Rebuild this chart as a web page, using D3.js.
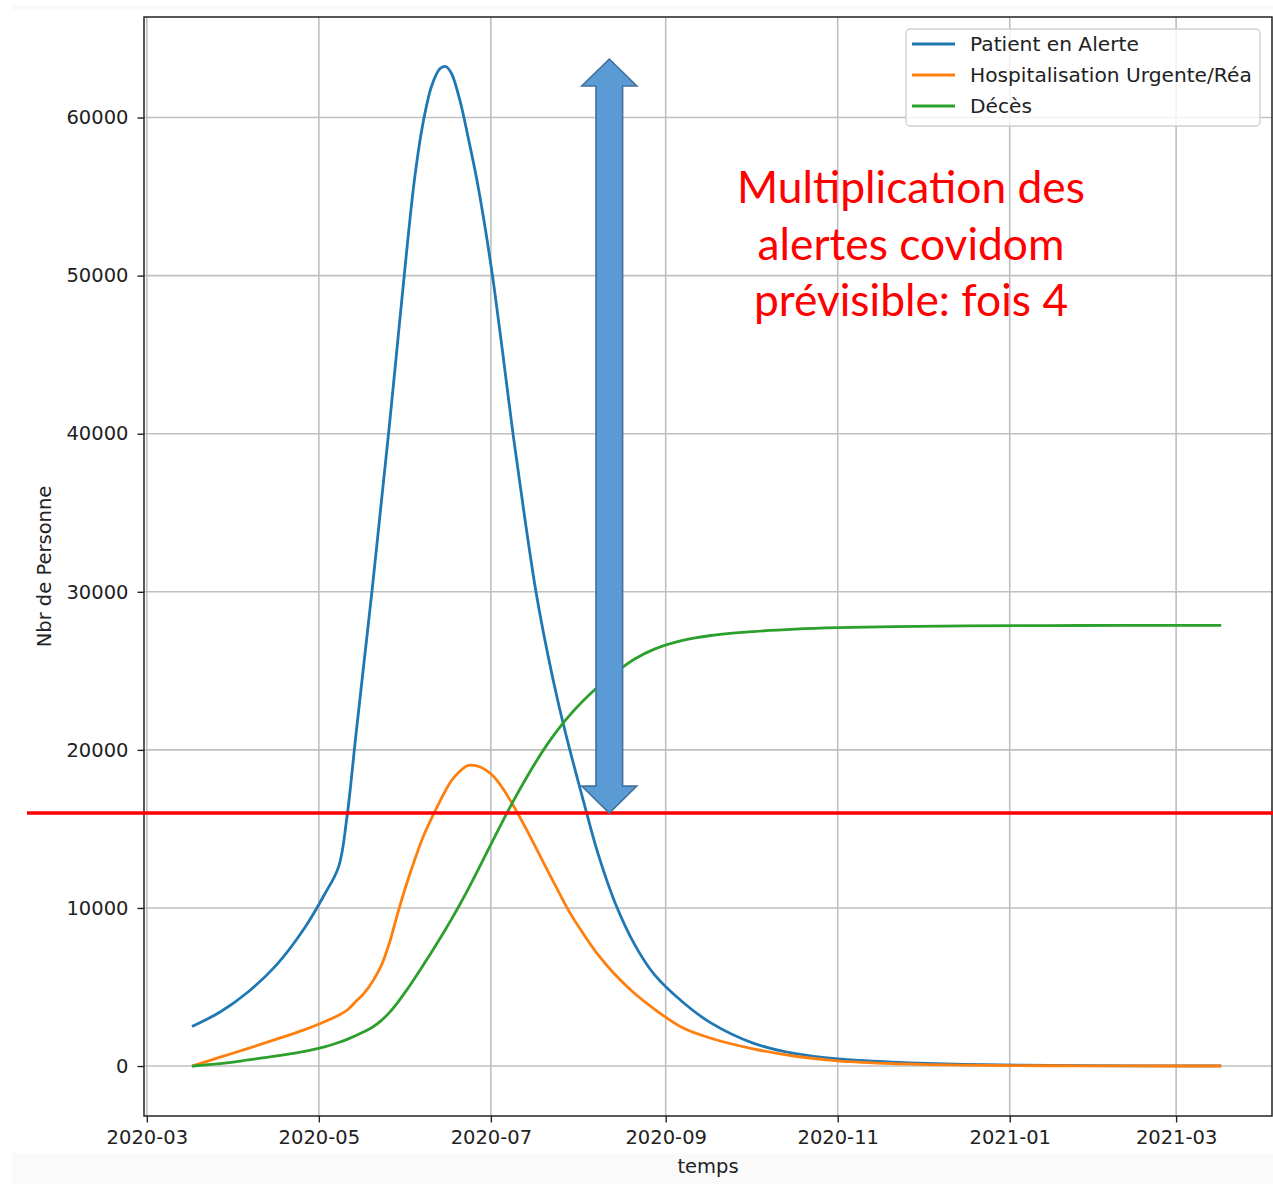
<!DOCTYPE html>
<html>
<head>
<meta charset="utf-8">
<script src="https://cdn.jsdelivr.net/npm/d3@7"></script>
<style>
body{margin:0;background:#fff}
svg{display:block}
text{font-family:"DejaVu Sans",sans-serif}
</style>
</head>
<body>
<div id="chart"></div>
<script>
// dates shared by the three series
var dates=["2020-03-17","2020-03-27","2020-04-06","2020-04-16","2020-04-26","2020-05-03","2020-05-08","2020-05-11","2020-05-14","2020-05-17",
"2020-05-20","2020-05-23","2020-05-26","2020-05-29","2020-06-01","2020-06-04","2020-06-07","2020-06-10","2020-06-13","2020-06-15",
"2020-06-17","2020-06-20","2020-06-23","2020-06-26","2020-06-29","2020-07-02","2020-07-05","2020-07-09","2020-07-13","2020-07-17",
"2020-07-21","2020-07-25","2020-07-29","2020-08-03","2020-08-08","2020-08-14","2020-08-21","2020-08-28","2020-09-07","2020-09-17",
"2020-10-02","2020-10-17","2020-11-01","2020-11-21","2020-12-16","2021-01-15","2021-02-14","2021-03-17"];

var alerte=[2500,3420,4700,6400,8750,10850,12600,15800,20700,25500,
30300,35400,40500,45900,51300,56200,59700,62000,63100,63230,
62800,61100,58700,56100,53000,49450,45400,39800,34700,30000,
26200,22900,20000,16650,13435,10350,7680,5780,4050,2730,
1450,780,450,250,110,40,15,5];

var hospit=[0,560,1120,1700,2300,2800,3210,3530,4065,4600,
5340,6300,7770,9680,11450,13050,14500,15680,16780,17450,
18050,18650,19020,18990,18750,18310,17620,16470,15175,13800,
12410,11030,9705,8315,7045,5790,4590,3600,2420,1760,
1090,620,330,150,60,20,6,2];

var deces=[0,150,385,640,930,1210,1490,1690,1916,2166,
2455,2857,3381,4034,4770,5560,6380,7210,8080,8670,
9277,10220,11207,12248,13310,14365,15418,16769,18046,19250,
20350,21330,22200,23150,23990,24870,25750,26375,26925,27235,
27480,27635,27730,27800,27840,27862,27874,27880];

var seriesNames=["Patient en Alerte","Hospitalisation Urgente/Réa","Décès"];
var seriesColors=["#1f77b4","#ff7f0e","#2ca02c"];
var yTicks=[0,10000,20000,30000,40000,50000,60000];

// annotation overlay
var seuil=16000;
var arrowDate="2020-08-12", arrowTop=63700;
var noteLines=["Multiplication des","alertes covidom","prévisible: fois 4"];

var W=1273,H=1184;
var L=144,T=17,R=1272,B=1116;
var parse=d3.timeParse("%Y-%m-%d");
var t=dates.map(parse);

var svg=d3.select("#chart").append("svg").attr("width",W).attr("height",H);
svg.append("rect").attr("width",W).attr("height",H).attr("fill","#fff");
svg.append("rect").attr("x",12).attr("y",5).attr("width",W-12).attr("height",5).attr("fill","#fafafa");
svg.append("rect").attr("x",12).attr("y",1153).attr("width",W-12).attr("height",H-1153).attr("fill","#fafafa");

var x=d3.scaleTime().domain([parse("2020-02-29"),parse("2021-04-04")]).range([L,R]);
var y=d3.scaleLinear().domain([-3160,66360]).range([B,T]);
var xTicks=x.ticks(d3.timeMonth.every(2));

// grid
var grid=svg.append("g").attr("stroke","#bfbfbf").attr("stroke-width",1.6);
grid.selectAll("line.v").data(xTicks).enter().append("line").attr("class","v")
    .attr("x1",function(d){return x(d);}).attr("x2",function(d){return x(d);}).attr("y1",T).attr("y2",B);
grid.selectAll("line.h").data(yTicks).enter().append("line").attr("class","h")
    .attr("x1",L).attr("x2",R).attr("y1",function(d){return y(d);}).attr("y2",function(d){return y(d);});

// series
var line=d3.line().curve(d3.curveCatmullRom.alpha(0.5));
[alerte,hospit,deces].forEach(function(vals,i){
    svg.append("path").attr("fill","none").attr("stroke",seriesColors[i]).attr("stroke-width",2.8)
        .attr("stroke-linejoin","round")
        .attr("d",line(vals.map(function(v,j){return [x(t[j]),y(v)];})));
});

// axes
var xa=svg.append("g").attr("transform","translate(0,"+B+")")
    .call(d3.axisBottom(x).tickValues(xTicks).tickFormat(d3.timeFormat("%Y-%m")).tickSize(6.5).tickPadding(8));
var ya=svg.append("g").attr("transform","translate("+L+",0)")
    .call(d3.axisLeft(y).tickValues(yTicks).tickFormat(d3.format("d")).tickSize(6.5).tickPadding(9));
[xa,ya].forEach(function(a){
    a.select(".domain").remove();
    a.selectAll(".tick line").attr("stroke","#222").attr("stroke-width",1.4);
    a.selectAll(".tick text").attr("fill","#222").style("font-size","19.5px").style("font-family","DejaVu Sans");
});
svg.append("rect").attr("x",L).attr("y",T).attr("width",R-L).attr("height",B-T)
    .attr("fill","none").attr("stroke","#222").attr("stroke-width",1.5);

svg.append("text").attr("x",(L+R)/2).attr("y",1173).attr("text-anchor","middle")
    .attr("fill","#222").style("font-size","19.5px").text("temps");
svg.append("text").attr("transform","translate(51,"+((T+B)/2)+") rotate(-90)").attr("text-anchor","middle")
    .attr("fill","#222").style("font-size","19.5px").text("Nbr de Personne");

// legend
var lg=svg.append("g");
lg.append("rect").attr("x",906).attr("y",29).attr("width",354).attr("height",97).attr("rx",4)
    .attr("fill","#fff").attr("fill-opacity",0.8).attr("stroke","#cfcfcf").attr("stroke-width",1.3);
seriesNames.forEach(function(n,i){
    var ly=44+i*31;
    lg.append("line").attr("x1",912).attr("x2",955).attr("y1",ly).attr("y2",ly)
        .attr("stroke",seriesColors[i]).attr("stroke-width",2.8);
    lg.append("text").attr("x",970).attr("y",ly).attr("dy","0.36em").attr("fill","#222")
        .style("font-size","20.2px").text(n);
});

// red threshold line
svg.append("line").attr("x1",27).attr("x2",W).attr("y1",y(seuil)).attr("y2",y(seuil))
    .attr("stroke","#ff0000").attr("stroke-width",3.5);

// double arrow
var cx=x(parse(arrowDate)), yt=y(arrowTop), yb=y(seuil), hd=27, hw=13.3, hh=27.5;
var pts=[[cx,yt],[cx+hh,yt+hd],[cx+hw,yt+hd],[cx+hw,yb-hd],[cx+hh,yb-hd],[cx,yb],
         [cx-hh,yb-hd],[cx-hw,yb-hd],[cx-hw,yt+hd],[cx-hh,yt+hd]];
svg.append("polygon").attr("points",pts.map(function(p){return p.join(",");}).join(" "))
    .attr("fill","#5b9bd5").attr("stroke","#41719c").attr("stroke-width",1.6).attr("stroke-linejoin","miter");

// red note
var note=svg.append("g");
var txt=note.selectAll("text").data(noteLines).enter().append("text")
    .attr("x",911).attr("y",function(d,i){return 203+i*56.5;}).attr("text-anchor","middle")
    .attr("fill","#ff0000").style("font-family","Lato, 'Open Sans', sans-serif").style("font-size","48px")
    .text(function(d){return d;});
var w0=txt.node().getComputedTextLength();
txt.style("font-size",(48*348/w0)+"px");
</script>
</body>
</html>
